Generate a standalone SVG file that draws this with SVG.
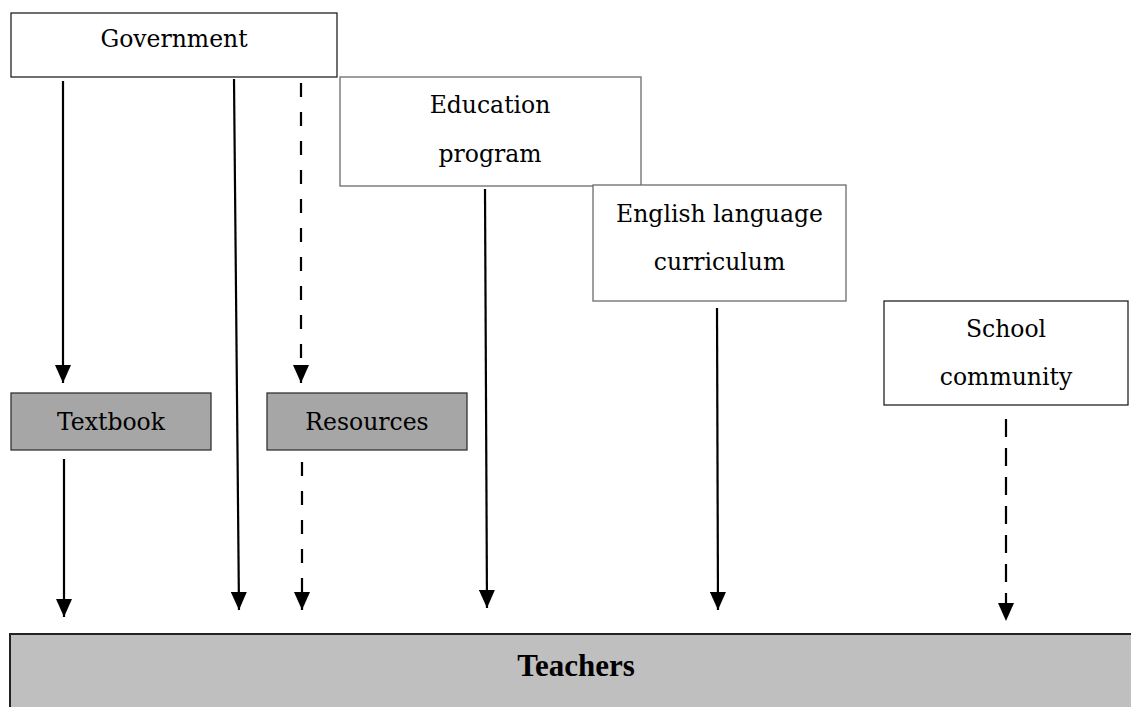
<svg xmlns="http://www.w3.org/2000/svg" width="1131" height="707" viewBox="0 0 1131 707">
<style>
.box{fill:#fff;stroke:#222;stroke-width:1.3}
.gbox{fill:#fff;stroke:#6b6b6b;stroke-width:1.3}
.dark{fill:#a6a6a6;stroke:#333;stroke-width:1.3}
.main{fill:#bfbfbf;stroke:#222;stroke-width:2}
.lbl{font-family:"DejaVu Serif","Liberation Serif",serif;font-size:23.5px;fill:#000;text-anchor:middle}
.big{font-family:"Liberation Serif","DejaVu Serif",serif;font-size:31px;font-weight:bold;fill:#000;text-anchor:middle}
.c{fill:none;stroke:#000;stroke-width:2.2}
.d1{stroke-dasharray:14 15}
.d2{stroke-dasharray:18 11}
</style>
<defs>
<marker id="ah" markerUnits="userSpaceOnUse" viewBox="0 0 18 16" refX="18" refY="8" markerWidth="18" markerHeight="16" orient="auto">
<path d="M0,0 L18,8 L0,16 z" fill="#000"/>
</marker>
</defs>
<rect width="1131" height="707" fill="#fff"/>
<g id="government">
<rect class="box" x="11" y="13" width="326" height="64"/>
<text class="lbl" x="174" y="47">Government</text>
</g>
<g id="education-program">
<rect class="gbox" x="340" y="77" width="301" height="109"/>
<text class="lbl" x="490" y="113">Education</text>
<text class="lbl" x="490" y="162">program</text>
</g>
<g id="english-curriculum">
<rect class="gbox" x="593" y="185" width="253" height="116"/>
<text class="lbl" x="719.5" y="222">English language</text>
<text class="lbl" x="719.5" y="270">curriculum</text>
</g>
<g id="school-community">
<rect class="box" x="884" y="301" width="244" height="104"/>
<text class="lbl" x="1006" y="337">School</text>
<text class="lbl" x="1006" y="385">community</text>
</g>
<g id="textbook">
<rect class="dark" x="11" y="393" width="200" height="57"/>
<text class="lbl" x="111" y="430">Textbook</text>
</g>
<g id="resources">
<rect class="dark" x="267" y="393" width="200" height="57"/>
<text class="lbl" x="367" y="430">Resources</text>
</g>
<g id="teachers">
<rect class="main" x="10" y="634" width="1130" height="90"/>
<text class="big" x="576" y="676">Teachers</text>
</g>
<g id="connectors">
<path class="c" d="M63,81 L63,383" marker-end="url(#ah)"/>
<path class="c" d="M234,79 L239,610" marker-end="url(#ah)"/>
<path class="c d1" d="M301,83 L301,383" marker-end="url(#ah)"/>
<path class="c" d="M64,459 L64,617" marker-end="url(#ah)"/>
<path class="c d1" d="M302,462 L302,610" marker-end="url(#ah)"/>
<path class="c" d="M485,189 L487,608" marker-end="url(#ah)"/>
<path class="c" d="M717,308 L718,610" marker-end="url(#ah)"/>
<path class="c d2" d="M1006,419 L1006,621" marker-end="url(#ah)"/>
</g>
</svg>
